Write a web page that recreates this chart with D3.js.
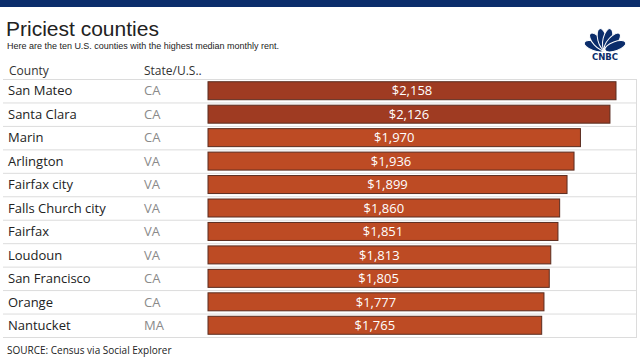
<!DOCTYPE html>
<html>
<head>
<meta charset="utf-8">
<script src="https://cdn.jsdelivr.net/npm/d3@7"></script>
<style>
  body { margin: 0; background: #fff; }
</style>
</head>
<body>
<div id="chart"></div>
<script>
var svgWidth = 640;
var svgHeight = 360;

var counties = ['San Mateo', 'Santa Clara', 'Marin', 'Arlington', 'Fairfax city',
                'Falls Church city', 'Fairfax', 'Loudoun', 'San Francisco', 'Orange', 'Nantucket'];
var states = ['CA', 'CA', 'CA', 'VA', 'VA', 'VA', 'VA', 'VA', 'CA', 'CA', 'MA'];
var rents = [2158, 2126, 1970, 1936, 1899, 1860, 1851, 1813, 1805, 1777, 1765];

var tableTop = 79;
var tableBottom = 337;
var barLeft = 208;
var barRight = 616;

var svg = d3.select("#chart")
    .append("svg")
    .attr("width", svgWidth)
    .attr("height", svgHeight);

// top band
svg.append("rect")
    .attr("x", 0).attr("y", 0)
    .attr("width", svgWidth).attr("height", 7)
    .attr("fill", "#0b2d6b");

svg.append("text")
    .attr("x", 6).attr("y", 36)
    .attr("font-family", "Liberation Sans, Arial, sans-serif")
    .attr("font-size", 21)
    .attr("fill", "#222")
    .text("Priciest counties");

svg.append("text")
    .attr("x", 7).attr("y", 49)
    .attr("font-family", "Liberation Sans, Arial, sans-serif")
    .attr("font-size", 9.4)
    .attr("fill", "#222")
    .attr("textLength", 272)
    .attr("lengthAdjust", "spacingAndGlyphs")
    .text("Here are the ten U.S. counties with the highest median monthly rent.");

// header
svg.append("text")
    .attr("x", 9).attr("y", 75)
    .attr("font-family", "Open Sans, sans-serif")
    .attr("font-size", 12)
    .attr("fill", "#333")
    .text("County");
svg.append("text")
    .attr("x", 144).attr("y", 75)
    .attr("font-family", "Open Sans, sans-serif")
    .attr("font-size", 12)
    .attr("fill", "#333")
    .text("State/U.S..");

var yScale = d3.scaleBand()
    .domain(counties)
    .range([tableTop, tableBottom]);

var xScale = d3.scaleLinear()
    .domain([0, d3.max(rents)])
    .range([barLeft, barRight]);

var rows = counties.map((c, i) => ({county: c, state: states[i], rent: rents[i], idx: i}));

// row lines
var lineYs = counties.map(c => yScale(c)).concat([tableBottom]);
svg.append("g").selectAll("line")
    .data(lineYs)
    .enter()
    .append("line")
    .attr("x1", 3).attr("x2", 637)
    .attr("y1", d => d + 0.5).attr("y2", d => d + 0.5)
    .attr("stroke", "#dcdcdc")
    .attr("stroke-width", 1);

svg.append("line")
    .attr("x1", 636.5).attr("x2", 636.5)
    .attr("y1", tableTop).attr("y2", tableBottom)
    .attr("stroke", "#dcdcdc");

var bh = 18;
var off = (yScale.bandwidth() - bh) / 2;

svg.append("g").selectAll("rect")
    .data(rows)
    .enter()
    .append("rect")
    .attr("x", xScale(0))
    .attr("y", d => yScale(d.county) + off)
    .attr("width", d => xScale(d.rent) - xScale(0))
    .attr("height", bh)
    .attr("fill", d => d.idx < 2 ? "#9f3b22" : "#bd4b24")
    .attr("stroke", "#5a2c20")
    .attr("stroke-width", 1);

var rowText = svg.append("g")
    .attr("font-family", "Open Sans, sans-serif");

rowText.selectAll(".county")
    .data(rows)
    .enter()
    .append("text")
    .attr("class", "county")
    .attr("x", 8)
    .attr("y", d => yScale(d.county) + yScale.bandwidth() / 2 + 4.7)
    .attr("font-size", 13)
    .attr("fill", "#222")
    .text(d => d.county);

rowText.selectAll(".state")
    .data(rows)
    .enter()
    .append("text")
    .attr("class", "state")
    .attr("x", 144)
    .attr("y", d => yScale(d.county) + yScale.bandwidth() / 2 + 4.7)
    .attr("font-size", 13)
    .attr("fill", "#8a8a8a")
    .text(d => d.state);

rowText.selectAll(".value")
    .data(rows)
    .enter()
    .append("text")
    .attr("class", "value")
    .attr("x", d => (xScale(0) + xScale(d.rent)) / 2)
    .attr("y", d => yScale(d.county) + yScale.bandwidth() / 2 + 4.7)
    .attr("text-anchor", "middle")
    .attr("font-size", 13)
    .attr("fill", "#fff")
    .text(d => "$" + d3.format(",")(d.rent));

// footer
svg.append("text")
    .attr("x", 7).attr("y", 354)
    .attr("font-family", "Open Sans, sans-serif")
    .attr("font-size", 10)
    .attr("fill", "#222")
    .text("SOURCE: Census via Social Explorer");

// CNBC peacock logo
var logo = svg.append("g")
    .attr("transform", "translate(605, 50)");
var angles = [-70, -42, -14, 14, 42, 70];
logo.selectAll("ellipse")
    .data(angles)
    .enter()
    .append("ellipse")
    .attr("cx", 0).attr("cy", -11)
    .attr("rx", 4.6).attr("ry", 11)
    .attr("transform", d => `rotate(${d})`)
    .attr("fill", "#0b2d6b")
    .attr("stroke", "#fff")
    .attr("stroke-width", 1);
logo.append("text")
    .attr("x", 0).attr("y", 10)
    .attr("text-anchor", "middle")
    .attr("font-family", "DejaVu Sans, sans-serif")
    .attr("font-weight", "bold")
    .attr("font-size", 8.5)
    .attr("fill", "#0b2d6b")
    .text("CNBC");
</script>
</body>
</html>
